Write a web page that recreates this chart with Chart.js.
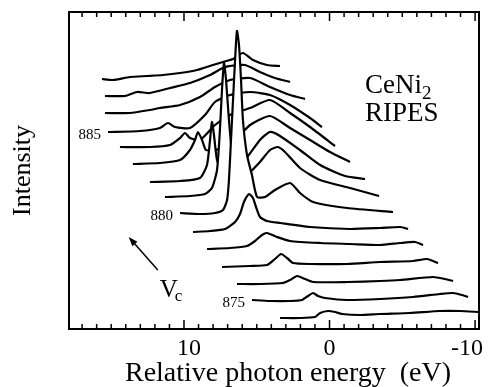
<!DOCTYPE html>
<html lang="en">
<head>
<meta charset="UTF-8" />
<title>CeNi2 RIPES</title>
<script src="https://cdn.jsdelivr.net/npm/chart.js@4"></script>
<style>
  body { margin: 0; background: #fff; }
  #wrap { width: 488px; height: 387px; }
</style>
</head>
<body>
<div id="wrap"><canvas id="chart" width="488" height="387"></canvas></div>
<script>
// incident energies (eV), front (bottom) spectrum first
const photonEnergies = [874, 875, 876, 877, 878, 879, 880, 881, 882, 883, 884, 885, 886, 887, 888];
// baseline offset of each spectrum (arb. units)
const offsets = [1.2, 2.9, 4.5, 6.2, 8.0, 9.7, 11.6, 13.2, 14.7, 16.5, 18.2, 19.7, 21.6, 23.3, 25.0];
const labelled = [875, 880, 885];
const xTicks = [10, 0, -10];

// [relative photon energy (eV), intensity above baseline]
const s874 = [[3.40,-0.1],[2.03,-0.1],[1.00,0],[0.65,0.4],[0.10,0.6],[-0.38,0.5],[-0.86,0.3],[-2.10,0.2],[-3.47,0.3],[-5.53,0.4],[-7.59,0.6],[-8.97,0.6],[-10.27,0.5]];
const s875 = [[5.33,0],[4.09,-0.1],[2.71,-0.1],[1.89,0],[1.48,0.4],[1.13,0.7],[0.79,0.4],[0.31,0.2],[-1.20,0],[-3.47,0.1],[-5.74,0.3],[-7.59,0.6],[-8.49,0.7],[-9.11,0.5],[-9.52,0.3]];
const s876 = [[6.36,0],[4.78,0],[3.20,0.1],[2.71,0.4],[2.23,0.8],[1.68,0.5],[1.13,0.2],[-1.20,0.2],[-3.47,0.3],[-4.85,0.4],[-7.11,0.7],[-7.94,0.5],[-8.49,0.3]];
const s877 = [[7.39,0],[5.46,0.1],[4.30,0.2],[3.75,0.8],[3.33,1.3],[2.92,0.9],[2.51,0.4],[1.34,0.3],[-1.20,0.3],[-3.47,0.5],[-5.74,0.6],[-6.70,0.8],[-7.46,0.4]];
const s878 = [[8.42,0],[6.84,0.1],[5.67,0.3],[5.12,0.8],[4.64,1.4],[4.30,1.6],[3.61,1.2],[2.71,0.8],[0.65,0.6],[-1.41,0.5],[-3.47,0.4],[-4.85,0.6],[-5.88,0.7],[-6.43,0.4]];
const s879 = [[9.38,0],[8.21,0.1],[7.18,0.3],[6.49,1.0],[6.15,1.8],[5.88,3.0],[5.53,3.8],[5.26,3.4],[5.05,2.5],[4.78,1.5],[4.30,1.1],[3.40,0.9],[1.34,0.5],[-1.41,0.3],[-3.47,0.4],[-4.85,0.5],[-5.40,0.3]];
const s880 = [[10.27,0],[8.90,-0.1],[7.87,0],[7.32,0.3],[7.04,1.3],[6.91,3.3],[6.77,7.3],[6.63,11.3],[6.49,15.3],[6.36,18.2],[6.22,16.8],[6.08,13.3],[5.95,9.3],[5.67,5.8],[5.33,3.8],[4.98,1.6],[4.43,1.6],[3.75,2.3],[2.71,3.0],[2.03,2.0],[1.13,1.1],[-1.20,0.5],[-4.36,0.1]];
const s881 = [[11.31,0],[9.59,0.1],[8.56,0.3],[8.08,0.9],[7.73,2.7],[7.53,6.7],[7.39,10.7],[7.25,13.4],[7.11,11.7],[6.91,7.7],[6.63,3.7],[6.15,2.2],[5.46,2.5],[4.78,3.5],[4.09,4.7],[3.54,5.0],[3.06,4.5],[2.03,2.9],[0.65,1.7],[-1.41,0.9],[-3.40,0.1]];
const s882 = [[12.34,0],[10.27,0.1],[8.90,0.4],[8.42,1.7],[8.21,4.2],[8.08,6.0],[7.94,4.7],[7.73,2.2],[7.39,1.2],[6.84,1.0],[5.81,2.2],[4.78,4.2],[4.09,5.0],[3.40,4.6],[2.03,3.2],[0.65,1.7],[-1.07,0.6],[-2.44,0.3]];
const s883 = [[13.51,0],[11.65,0.1],[10.27,0.4],[9.59,1.4],[9.24,2.4],[9.04,3.2],[8.76,2.4],[8.49,1.4],[7.87,1.4],[6.84,1.9],[5.46,3.9],[4.09,4.8],[2.71,3.6],[1.34,2.4],[-0.03,1.2],[-1.41,0.2]];
const s884 = [[14.40,0],[12.34,0],[10.96,0.2],[10.27,0.9],[9.93,1.4],[9.59,0.9],[8.90,0.7],[7.87,2.2],[6.84,3.2],[5.46,3.9],[4.09,4.7],[2.71,3.4],[1.34,2.0],[-0.38,0.1]];
const s885 = [[15.22,0],[13.02,0.1],[11.65,0.4],[11.10,0.9],[10.62,0.5],[9.59,0.4],[8.56,1.7],[7.87,3.0],[6.84,3.7],[5.46,4.0],[4.09,3.7],[2.71,2.7],[1.34,1.4],[0.52,0.5]];
const s886 = [[15.43,0],[13.71,0],[12.34,0.3],[11.65,0.5],[10.27,0.8],[8.90,1.6],[7.87,2.6],[6.84,3.3],[5.46,3.5],[4.09,2.6],[2.71,1.8],[1.68,1.4]];
const s887 = [[15.43,0],[14.05,0],[13.23,0.4],[12.34,0.3],[10.96,0.8],[9.59,1.3],[8.21,2.1],[7.18,2.9],[5.81,3.1],[4.78,2.4],[3.75,1.8],[2.71,1.4]];
const s888 = [[15.64,0],[14.88,-0.1],[13.71,0.2],[12.54,0.3],[11.44,0.4],[10.27,0.6],[9.11,0.9],[8.01,1.4],[7.32,1.7],[6.63,2.0],[5.95,2.6],[5.26,1.9],[4.30,1.4],[3.40,1.3]];

const spectra = [s874, s875, s876, s877, s878, s879, s880, s881, s882, s883, s884, s885, s886, s887, s888];

const serif = '"Liberation Serif", "Times New Roman", serif';
const ink = '#000';

// front spectra are drawn last; the white fill down to each baseline hides the lines behind
const datasets = spectra.map((s, i) => ({
  label: String(photonEnergies[i]),
  data: s.map(([e, v]) => ({ x: e, y: offsets[i] + v })),
  borderColor: ink,
  borderWidth: 2.2,
  backgroundColor: '#fff',
  fill: { value: offsets[i] },
  pointRadius: 0,
  tension: 0.2
}));

const decor = {
  id: 'decor',
  afterDraw(chart) {
    const { ctx, chartArea: a, scales: { x, y } } = chart;
    ctx.save();
    ctx.strokeStyle = ink;
    ctx.fillStyle = ink;

    // frame
    ctx.lineWidth = 2;
    ctx.strokeRect(a.left, a.top, a.right - a.left, a.bottom - a.top);

    // inward ticks every 1 eV on top and bottom
    ctx.lineWidth = 1.5;
    for (let v = Math.ceil(x.min); v <= Math.floor(x.max); v++) {
      const px = x.getPixelForValue(v);
      const len = xTicks.includes(v) ? 9 : 5;
      ctx.beginPath();
      ctx.moveTo(px, a.bottom); ctx.lineTo(px, a.bottom - len);
      ctx.moveTo(px, a.top); ctx.lineTo(px, a.top + len);
      ctx.stroke();
    }

    // tick labels
    ctx.font = '24px ' + serif;
    ctx.textBaseline = 'alphabetic';
    const shift = { '10': 5, '0': 0, '-10': -8 };
    xTicks.forEach(v => {
      ctx.textAlign = 'center';
      ctx.fillText(String(v), x.getPixelForValue(v) + shift[String(v)], a.bottom + 26);
    });

    // axis titles
    ctx.font = '28px ' + serif;
    ctx.textAlign = 'center';
    ctx.fillText('Relative photon energy  (eV)', (a.left + a.right) / 2 + 14, a.bottom + 52);
    ctx.save();
    ctx.translate(23, (a.top + a.bottom) / 2);
    ctx.rotate(-Math.PI / 2);
    ctx.textBaseline = 'middle';
    ctx.font = '26px ' + serif;
    ctx.fillText('Intensity', 0, 0);
    ctx.restore();

    // photon energy labels at the start of some spectra
    ctx.font = '15px ' + serif;
    ctx.textAlign = 'right';
    ctx.textBaseline = 'middle';
    labelled.forEach(pe => {
      const i = photonEnergies.indexOf(pe);
      const first = spectra[i][0];
      ctx.fillText(String(pe), x.getPixelForValue(first[0]) - 7, y.getPixelForValue(offsets[i]) + 3);
    });

    // sample / method label
    ctx.textAlign = 'left';
    ctx.textBaseline = 'alphabetic';
    ctx.font = '27px ' + serif;
    const lx = a.right - 114;
    ctx.fillText('CeNi', lx, a.top + 81);
    const w = ctx.measureText('CeNi').width;
    ctx.font = '19px ' + serif;
    ctx.fillText('2', lx + w, a.top + 87);
    ctx.font = '27px ' + serif;
    ctx.fillText('RIPES', lx, a.top + 109);

    // V_c arrow
    const x0 = x.getPixelForValue(11.8), y0 = y.getPixelForValue(5.9);
    const x1 = x.getPixelForValue(13.8), y1 = y.getPixelForValue(9.2);
    const ang = Math.atan2(y1 - y0, x1 - x0);
    ctx.lineWidth = 1.5;
    ctx.beginPath();
    ctx.moveTo(x0, y0); ctx.lineTo(x1 - 5 * Math.cos(ang), y1 - 5 * Math.sin(ang));
    ctx.stroke();
    ctx.beginPath();
    ctx.moveTo(x1, y1);
    ctx.lineTo(x1 - 10 * Math.cos(ang - 0.35), y1 - 10 * Math.sin(ang - 0.35));
    ctx.lineTo(x1 - 10 * Math.cos(ang + 0.35), y1 - 10 * Math.sin(ang + 0.35));
    ctx.closePath();
    ctx.fill();
    ctx.font = '25px ' + serif;
    ctx.fillText('V', x0 + 2, y0 + 27);
    const vw = ctx.measureText('V').width;
    ctx.font = '17px ' + serif;
    ctx.fillText('c', x0 + 2 + vw - 3, y0 + 31);

    ctx.restore();
  }
};

new Chart(document.getElementById('chart').getContext('2d'), {
  type: 'line',
  data: { datasets },
  options: {
    responsive: false,
    animation: false,
    layout: { padding: { left: 69, right: 9, top: 12, bottom: 58 } },
    plugins: { legend: { display: false }, tooltip: { enabled: false } },
    scales: {
      x: { type: 'linear', reverse: true, min: -10.27, max: 17.9, display: false },
      y: { type: 'linear', min: 0, max: 31.7, display: false }
    }
  },
  plugins: [decor]
});
</script>
</body>
</html>
